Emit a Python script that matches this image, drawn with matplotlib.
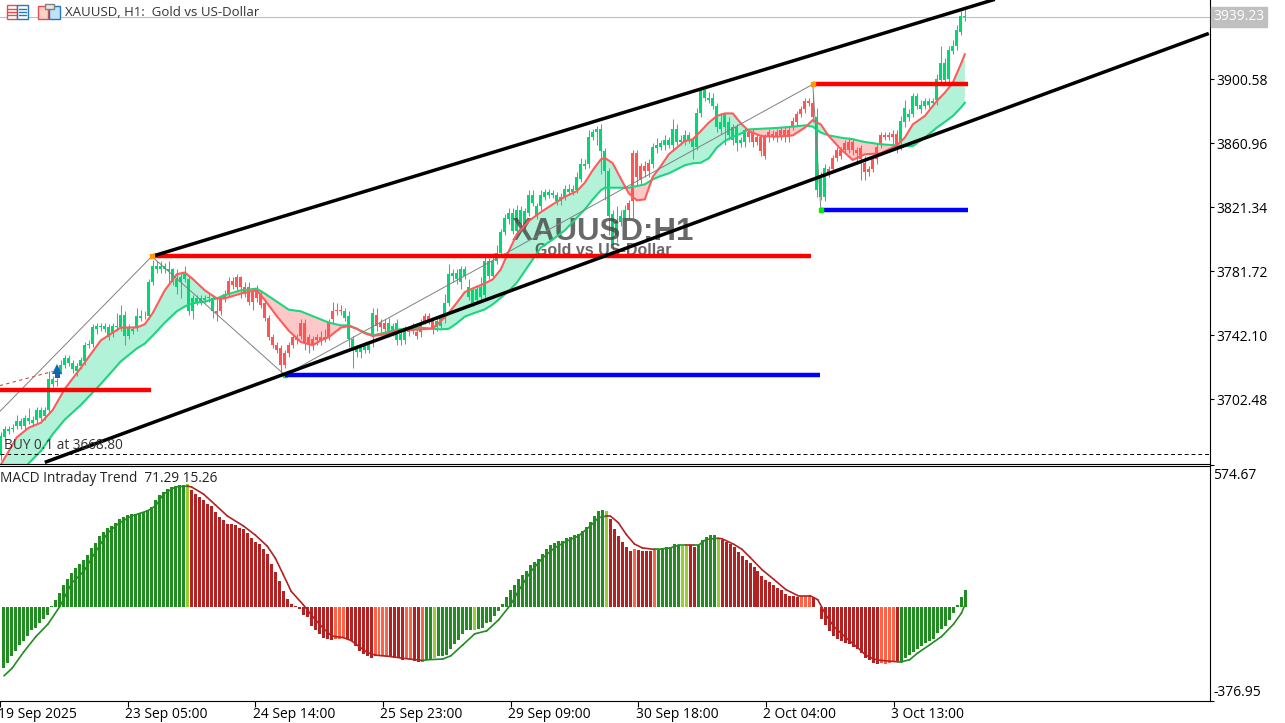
import matplotlib
matplotlib.use('Agg')
import matplotlib.pyplot as plt
import matplotlib.patches as patches
from matplotlib.transforms import ScaledTranslation
import numpy as np

plt.rcParams['font.family'] = ['Open Sans', 'DejaVu Sans']

# candles (bars are 4 px apart, one per hour)
body_top = [3680,3684,3684,3685,3689,3689,3691,3691,3690,3696,3696,3696,3715,3715,3714,3724,3728,3728,3725,3723,3727,3736,3737,3747,3748,3748,3748,3747,3748,3748,3755,3755,3747,3746,3754,3754,3754,3775,3785,3785,3785,3785,3783,3783,3777,3778,3780,3777,3765,3765,3765,3765,3766,3765,3757,3765,3768,3776,3776,3778,3778,3772,3772,3769,3771,3768,3762,3753,3741,3736,3734,3731,3736,3741,3741,3750,3750,3741,3740,3741,3741,3741,3750,
    3757,3758,3758,3757,3754,3740,3734,3735,3736,3736,3756,3755,3750,3750,3750,3748,3750,3743,3746,3746,3747,3744,3750,3754,3754,3751,3751,3753,3762,3780,3781,3781,3783,3783,3772,3770,3771,3772,3788,3788,3788,3793,3806,3815,3818,3818,3820,3820,3819,3829,3829,3822,3829,3831,3831,3830,3829,3828,3833,3833,3833,3840,3848,3848,3865,3868,3870,3870,3856,3844,3817,3813,3816,3820,3824,3855,3855,3847,3847,3849,
    3859,3860,3861,3863,3863,3870,3870,3863,3866,3866,3863,3880,3894,3894,3889,3889,3884,3874,3879,3874,3871,3871,3863,3869,3868,3868,3865,3865,3865,3868,3867,3868,3869,3869,3869,3875,3879,3882,3887,3887,3886,3877,3840,3846,3845,3852,3857,3857,3861,3862,3862,3857,3858,3849,3845,3851,3859,3866,3866,3866,3867,3867,3875,3883,3879,3890,3890,3885,3887,3887,3887,3901,3911,3911,3919,3921,3931,3940,3940]
body_bottom = [3668,3679,3683,3684,3686,3686,3686,3689,3688,3690,3691,3692,3696,3712,3713,3720,3724,3725,3721,3720,3723,3726,3736,3737,3746,3747,3746,3741,3743,3747,3747,3742,3742,3745,3747,3753,3754,3754,3775,3783,3783,3783,3782,3775,3772,3775,3777,3757,3757,3763,3763,3764,3765,3757,3756,3757,3765,3768,3773,3772,3772,3768,3763,3763,3765,3761,3753,3741,3736,3733,3724,3724,3731,3736,3739,3742,3738,3736,3736,3739,3739,3740,3741,
    3752,3757,3757,3753,3740,3733,3732,3732,3733,3733,3743,3748,3747,3746,3744,3744,3739,3739,3739,3744,3745,3742,3744,3751,3751,3746,3747,3748,3752,3762,3779,3777,3775,3779,3766,3762,3764,3766,3767,3779,3779,3788,3793,3806,3814,3807,3807,3811,3810,3818,3824,3816,3822,3828,3829,3829,3825,3825,3828,3831,3831,3832,3839,3847,3848,3865,3868,3856,3844,3816,3798,3804,3812,3815,3820,3825,3840,3838,3844,3844,
    3848,3858,3859,3860,3860,3860,3862,3862,3862,3863,3859,3859,3880,3889,3888,3884,3871,3870,3871,3866,3863,3861,3861,3862,3865,3862,3862,3856,3853,3865,3865,3865,3865,3865,3865,3871,3874,3879,3882,3886,3877,3832,3828,3828,3842,3845,3852,3853,3857,3857,3857,3855,3851,3843,3843,3845,3851,3860,3865,3865,3865,3857,3861,3874,3877,3879,3884,3882,3884,3885,3886,3888,3900,3900,3901,3918,3921,3930,3939]
highs = [3682,3686,3686,3687,3693,3691,3693,3697,3692,3698,3698,3698,3720,3717,3716,3727,3730,3730,3727,3725,3729,3738,3739,3749,3750,3750,3750,3749,3750,3756,3761,3757,3749,3748,3759,3758,3757,3777,3789,3788,3788,3787,3788,3784,3783,3781,3785,3779,3767,3767,3767,3767,3768,3767,3766,3767,3770,3778,3778,3780,3779,3775,3775,3771,3773,3770,3764,3755,3743,3738,3736,3733,3738,3743,3743,3752,3752,3743,3742,3743,3745,3746,3752,
    3763,3762,3761,3759,3757,3742,3736,3737,3738,3738,3759,3759,3752,3752,3753,3750,3752,3745,3748,3748,3750,3746,3752,3756,3756,3753,3753,3755,3768,3786,3783,3783,3785,3785,3777,3772,3773,3778,3791,3790,3793,3798,3808,3817,3821,3821,3823,3822,3821,3832,3832,3824,3832,3833,3833,3832,3831,3830,3835,3836,3835,3843,3852,3851,3869,3870,3872,3873,3858,3846,3820,3822,3820,3823,3826,3857,3857,3849,3850,3851,
    3861,3864,3863,3866,3865,3876,3873,3866,3869,3868,3865,3883,3896,3896,3893,3892,3886,3880,3880,3877,3873,3873,3865,3871,3870,3870,3867,3867,3867,3870,3869,3870,3871,3871,3871,3877,3881,3884,3889,3889,3892,3883,3843,3848,3847,3854,3859,3859,3863,3865,3864,3859,3860,3853,3847,3853,3861,3868,3868,3868,3869,3869,3878,3888,3882,3892,3892,3888,3889,3889,3889,3904,3921,3914,3921,3925,3934,3943,3946]
lows = [3665,3677,3681,3682,3684,3684,3684,3687,3686,3688,3689,3690,3694,3710,3711,3718,3722,3723,3719,3717,3721,3724,3734,3735,3743,3745,3744,3739,3741,3745,3745,3736,3740,3743,3745,3751,3752,3752,3773,3781,3781,3781,3774,3773,3768,3765,3775,3755,3752,3761,3761,3762,3763,3753,3751,3755,3763,3766,3771,3770,3765,3766,3761,3758,3763,3759,3751,3739,3734,3731,3719,3722,3729,3734,3737,3740,3733,3731,3733,3736,3736,3738,3739,
    3750,3755,3755,3751,3735,3722,3729,3728,3731,3731,3735,3745,3744,3744,3741,3742,3736,3736,3737,3742,3743,3740,3741,3749,3749,3743,3745,3746,3750,3760,3775,3774,3771,3777,3764,3760,3762,3764,3765,3777,3777,3786,3791,3804,3811,3805,3805,3808,3808,3816,3822,3814,3820,3826,3827,3827,3823,3823,3826,3829,3829,3830,3837,3845,3846,3863,3860,3842,3826,3804,3795,3800,3810,3813,3815,3815,3835,3835,3840,3840,
    3846,3855,3857,3857,3858,3856,3860,3860,3860,3861,3851,3857,3877,3887,3886,3882,3868,3867,3860,3863,3860,3856,3859,3859,3862,3859,3860,3853,3851,3862,3863,3862,3863,3862,3862,3869,3872,3877,3880,3884,3874,3828,3826,3825,3840,3843,3850,3851,3855,3855,3854,3848,3838,3838,3841,3843,3848,3858,3863,3863,3857,3855,3857,3871,3875,3877,3882,3880,3882,3883,3884,3885,3898,3898,3899,3916,3919,3928,3937]
# bars drawn red (first, last)
red_candles = [(54, 85), (94, 96), (104, 108), (157, 162), (187, 203), (207, 224)]

# moving averages, read at these bars
ma_bars = [0,4,7,10,13,16,20,25,30,34,36,38,41,44,46,48,51,54,56,60,64,66,69,72,75,78,80,82,
    85,87,89,91,93,96,99,102,105,108,110,112,114,116,118,121,123,125,127,129,132,135,138,141,144,146,148,150,151,153,155,157,159,161,163,
    165,167,169,171,173,175,177,179,181,183,185,187,190,194,198,201,203,205,207,210,213,216,220,224,226,228,231,234,236,238,240,241]
fast_ma = [3662,3679,3685,3688,3696,3709,3722,3739,3747,3747,3749,3756,3770,3780,3781,3777,3770,3765,3765,3768,3770,3764,3754,3745,3738,3736,3739,3741,
    3746.9,3747.9,3746.2,3743.4,3741.7,3742.7,3745.2,3745.4,3745.8,3746.4,3751,3756.1,3762.3,3768.9,3771.2,3774.3,3776.8,3783,3794.3,3804.6,3812.9,3818.4,3823.2,3827.9,3831.4,3836.6,3844.4,3851,3852,3848.6,3839.1,3830,3825.7,3826.3,3840.3,
    3846.9,3854.2,3858.3,3862.4,3863.5,3868.6,3873.8,3877.9,3879.5,3879.5,3873.4,3868.6,3865.5,3865.1,3865.9,3870.7,3875.4,3872.7,3865.5,3857.3,3850.7,3854.2,3854.8,3859.7,3864.5,3872.7,3877.9,3887.2,3892.3,3898.5,3909.9,3916.1]
slow_ma = [3645,3654,3663,3670.5,3681,3690,3699,3712,3726,3734,3737,3742,3750,3757,3760,3762,3763,3765,3767,3770,3771,3768,3763,3758,3757,3754,3752,3750,
    3748.3,3748.3,3746.2,3743.8,3742.1,3743.8,3745.6,3746.7,3746.9,3746.2,3745.8,3746.2,3749.6,3753.7,3755.6,3758.2,3761.3,3765.4,3769.6,3774.7,3785.6,3796.4,3801.5,3807.1,3814.9,3820.1,3826.3,3831.9,3833.5,3833.5,3833.5,3833.5,3834.5,3835.6,3838.7,
    3840.8,3842.4,3844.9,3847.4,3848.6,3849,3851.7,3858.3,3862.4,3865.1,3867,3869.6,3870,3870.5,3871.3,3872.1,3871.3,3867.6,3865.9,3864.5,3863.5,3861.8,3860.4,3859.7,3859.3,3859.3,3864.5,3870.7,3874.2,3877.9,3883,3886.1]

# drawn objects on the price pane: bars and prices
upper_channel_x = [37.75, 248.5]
upper_channel_y = [3791, 3950.1]
lower_channel_x = [11, 302]
lower_channel_y = [3663.5, 3929]
zigzag_x = [-0.25, 37.75, 71, 203, 205]
zigzag_y = [3695, 3791, 3717.6, 3897.5, 3820]
red_levels = [(-0.25, 37.5, 3708), (38, 202.5, 3791.5), (203, 241.75, 3897.5)]
blue_levels = [(71, 204.75, 3717.6), (205, 241.75, 3820)]
trade_x = [-0.25, 13]
trade_y = [3711, 3719.8]
buy_price = 3668.80
last_price = 3939.23
price_ticks = [3900.58, 3860.96, 3821.34, 3781.72, 3742.10, 3702.48]

# MACD histogram
macd_hist = [-244,-226,-197,-176,-152,-134,-114,-93,-84,-63,-46,-30,4,31,59,89,116,140,158,176,194,214,239,262,289,305,322,330,343,357,367,373,377,377,384,387,393,406,434,456,469,479,488,492,495,495,499,474,461,447,434,420,411,387,366,352,339,336,332,322,316,300,280,266,255,235,217,176,144,108,65,35,14,7,-6,-30,-39,-75,-93,-107,-125,-128,-131,
    -129,-128,-125,-128,-138,-158,-175,-188,-198,-203,-196,-193,-196,-196,-199,-203,-206,-212,-209,-212,-215,-220,-220,-212,-212,-206,-196,-196,-193,-170,-149,-131,-108,-93,-93,-93,-87,-84,-63,-60,-36,-16,
    14,41,72,92,117,133,149,173,185,198,218,235,251,262,268,268,282,286,293,298,309,327,347,370,391,393,391,357,316,289,266,244,227,235,232,230,227,227,235,
    238,241,244,244,255,253,248,248,253,244,253,271,285,293,292,280,275,265,255,244,224,208,194,181,164,146,129,113,102,92,78,69,56,48,45,42,48,48,48,42,2,
    -46,-71,-95,-114,-128,-138,-143,-148,-161,-170,-185,-203,-212,-226,-229,-226,-229,-226,-223,-220,-220,-206,-193,-182,-168,-156,-145,-138,-128,-104,-87,-77,-50,-23,8,42,71.29]
hist_runs = [('g',46),('y',1),('r',36),('o',3),('r',7),('o',4),('r',4),('o',2),('r',2),('o',1),('g',2),('y',1),('g',9),('y',1),('g',32),('y',1),('r',6),('o',1),('r',4),('o',1),('g',6),('y',2),('r',2),('g',5),('y',1),('r',20),('o',3),('r',17),('o',4),('r',1),('g',17)]
hist_colors = {'g': '#228B22', 'y': '#9ACD32', 'r': '#B22222', 'o': '#FF6347'}

signal_bars = [0,2,5,8,11,14,17,20,23,26,29,32,36,38,40,43,46,47,50,53,56,60,63,66,68,70,72,75,77,80,82,83,85,87,89,91,93,97,100,105,106,110,112,115,118,121,124,127,129,132,135,138,141,144,147,149,151,152,154,156,158,160,163,164,167,169,171,172,173,174,176,179,180,183,185,187,190,193,196,199,202,204,206,208,211,214,216,218,220,224,225,227,229,232,235,238,240,241]
signal = [-277,-247,-179,-118,-68,4,99,146,226,302,343,370,391,411,459,488,491,488,459,415,370,330,293,248,200,133,65,11,-30,-84,-114,-118,-122,-134,-158,-182,-193,-199,-206,-215,-212,-209,-196,-152,-107,-95,-50,11,68,144,200,241,268,289,330,363,370,370,343,295,257,241,235,235,241,251,251,251,251,251,275,280,278,255,235,203,153,113,72,48,48,31,-30,-77,-122,-163,-193,-209,-215,-220,-220,-212,-185,-152,-118,-68,-23,15.26]
macd_ticks = [574.67, -376.95]

time_ticks = [-1, 31, 63, 95, 127, 159, 191, 223]
time_labels = ['19 Sep 2025', '23 Sep 05:00', '24 Sep 14:00', '25 Sep 23:00', '29 Sep 09:00', '30 Sep 18:00', '2 Oct 04:00', '3 Oct 13:00']

W, H = 1285, 723
fig = plt.figure(figsize=(W / 100, H / 100), dpi=100)
ax = fig.add_axes([0, 1 - 463.5 / H, 1209.5 / W, 463.5 / H])
ax2 = fig.add_axes([0, 1 - 700.5 / H, 1209.5 / W, 235 / H])

fs = 9.8
green, red = '#00D873', '#FF5555'
bars = np.arange(len(body_top))
candle_colors = [green] * len(bars)
for first, last in red_candles:
    for i in range(first, last + 1):
        candle_colors[i] = red

ax.vlines(bars, lows, highs, colors=candle_colors, lw=0.75, zorder=2)
ax.bar(bars, np.array(body_top) - np.array(body_bottom), bottom=body_bottom, width=0.75, color=candle_colors, lw=0, antialiased=False, zorder=2)

# MA cloud
mx = np.array(ma_bars)
fast = np.array(fast_ma)
slow = np.array(slow_ma)
ax.fill_between(mx, fast, slow, where=fast >= slow, interpolate=True, color='#B2F2D8', lw=0, zorder=1.5)
ax.fill_between(mx, fast, slow, where=fast < slow, interpolate=True, color='#FFC8C8', lw=0, zorder=1.5)
ax.plot(mx, slow, color='#1BD67E', lw=1.5, zorder=3)
ax.plot(mx, fast, color='#FF5B5B', lw=1.5, zorder=3.1)

# objects
ax.axhline(last_price, color='#C0C0C0', lw=0.8, zorder=1)
ax.plot(zigzag_x, zigzag_y, color='#808080', lw=0.7, zorder=3.5)
for x0, x1, p in red_levels:
    ax.plot([x0, x1], [p, p], color='#FF0000', lw=3.2, solid_capstyle='butt', zorder=4)
for x0, x1, p in blue_levels:
    ax.plot([x0, x1], [p, p], color='#0000FF', lw=3.2, solid_capstyle='butt', zorder=4)
ax.plot(upper_channel_x, upper_channel_y, color='black', lw=2.5, solid_capstyle='butt', zorder=5)
ax.plot(lower_channel_x, lower_channel_y, color='black', lw=2.5, solid_capstyle='butt', zorder=5)
ax.plot(zigzag_x[1], zigzag_y[1], 's', color='#FF9900', ms=3, zorder=6)
ax.plot(zigzag_x[3], zigzag_y[3], 's', color='#FF9900', ms=3.5, zorder=6)
ax.plot(zigzag_x[2], zigzag_y[2], 's', color='#33CC33', ms=3, zorder=3.9)
ax.plot(zigzag_x[4], zigzag_y[4], 's', color='#00EE00', ms=3.5, zorder=6)

ax.plot(trade_x, trade_y, color='#D05030', lw=0.8, ls=(0, (3, 3)), zorder=3)
ax.plot(trade_x[1] + 1, trade_y[1] + 1.4, '^', color='#1464B4', ms=7, mew=0, zorder=6)
ax.plot(trade_x[1] + 1, trade_y[1] - 2.4, 's', color='#1464B4', ms=3.6, mew=0, zorder=6)

ax.axhline(buy_price, color='black', lw=0.7, ls=(0, (4, 3)), zorder=3)
ax.text(0.75, buy_price + 5.2, 'BUY 0.1 at 3668.80', fontsize=fs, color='#333333', va='center', ha='left', zorder=7)

# watermark, sits under the MA lines and the drawn objects
ax.text(150.5, 3806, 'XAUUSD:H1', fontsize=22.5, fontweight='bold', family='Liberation Sans', color='#444444', alpha=0.8, ha='center', va='center', zorder=2.5)
ax.text(150.7, 3794.5, 'Gold vs US-Dollar', fontsize=11.5, fontweight='bold', family='Liberation Sans', color='#444444', alpha=0.8, ha='center', va='center', zorder=2.5)

ax.set_xlim(-0.2, 302.175)
ax.set_ylim(3662.8, 3949.7)
ax.set_xticks([])
ax.yaxis.tick_right()
ax.set_yticks(price_ticks, [f'{p:.2f}' for p in price_ticks])
ax.tick_params(axis='y', length=3, width=0.8, pad=2, labelsize=fs + 0.2, labelcolor='black')
for s in ['top', 'left']:
    ax.spines[s].set_visible(False)

# last price tag
ax.text(1.0 + 4 / 1209.5, last_price, f'{last_price:.2f}', transform=ax.get_yaxis_transform(), fontsize=fs + 0.2, color='white',
        va='center', ha='left', zorder=8, clip_on=False,
        bbox=dict(facecolor='#C0C0C0', edgecolor='#C0C0C0', boxstyle='square,pad=0.2'))

# MACD pane
colors = []
for key, n in hist_runs:
    colors += [hist_colors[key]] * n
hx = np.arange(len(macd_hist))
ax2.bar(hx, macd_hist, width=0.75, color=colors, lw=0, antialiased=False, zorder=2)
for k in range(len(signal_bars) - 1):
    b = signal_bars[k + 1]
    line_color = '#B22222' if colors[b] in (hist_colors['r'], hist_colors['o']) else '#228B22'
    ax2.plot(signal_bars[k:k + 2], signal[k:k + 2], color=line_color, lw=1.2, zorder=3, solid_capstyle='round')
ax2.text(0, 0.945, 'MACD Intraday Trend  71.29 15.26', transform=ax2.transAxes, fontsize=fs, color='#222222', va='center', ha='left')
ax2.set_xlim(-0.2, 302.175)
ax2.set_ylim(-376.95, 574.67)
ax2.yaxis.tick_right()
ax2.set_yticks(macd_ticks, ['574.67', '-376.95'])
ax2.set_xticks(time_ticks, time_labels, ha='left')
ax2.tick_params(axis='y', length=3, width=0.8, pad=2, labelsize=fs + 0.2)
ax2.tick_params(axis='x', length=4, width=0.8, pad=0.5, labelsize=fs + 0.2)
ax2.spines['left'].set_visible(False)
# labels sit inside the pane, under the top tick and over the bottom tick
ylabels = ax2.get_yticklabels()
ylabels[0].set_va('top')
ylabels[1].set_va('bottom')
ylabels[0].set_transform(ylabels[0].get_transform() + ScaledTranslation(-3 / 100, -3 / 100, fig.dpi_scale_trans))
ylabels[1].set_transform(ylabels[1].get_transform() + ScaledTranslation(-3 / 100, 0, fig.dpi_scale_trans))
for lab in ax2.get_xticklabels():
    lab.set_transform(lab.get_transform() + ScaledTranslation(-2.5 / 100, 0, fig.dpi_scale_trans))

# toolbar icons top left
def icon_box(x0, y0, x1, y1, edge, face, lw=1.0):
    fig.add_artist(patches.Rectangle((x0 / W, 1 - y1 / H), (x1 - x0) / W, (y1 - y0) / H, transform=fig.transFigure,
                                     edgecolor=edge, facecolor=face, lw=lw, zorder=10))

def icon_line(x0, x1, y, color):
    fig.add_artist(plt.Line2D([x0 / W, x1 / W], [1 - y / H, 1 - y / H], color=color, lw=1.0, zorder=11))

icon_box(6.5, 5, 17, 19, '#E05050', 'white')
icon_box(17, 5, 27.5, 19, '#2878B8', 'white')
for yy in (9, 12, 15):
    icon_line(8, 15.5, yy, '#E05050')
    icon_line(18.5, 26, yy, '#2878B8')
icon_box(38, 6, 48, 19, '#E05050', '#FFD0C8')
icon_box(49, 6, 59.5, 19, '#2878B8', '#BFE3FA')
icon_box(44.5, 4, 54, 9, '#808080', '#E8E8E8')
fig.text(65 / W, 1 - 12.5 / H, 'XAUUSD, H1:  Gold vs US-Dollar', fontsize=9.5, color='#333333', va='center', ha='left', zorder=11)

fig.savefig('out.png', dpi=100)
